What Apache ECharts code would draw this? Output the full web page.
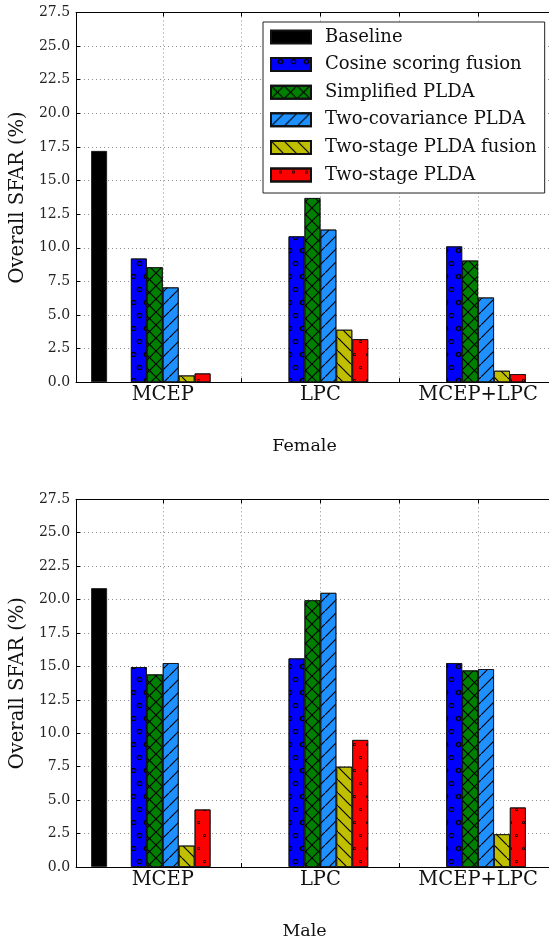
<!DOCTYPE html>
<html>
<head>
<meta charset="utf-8">
<script src="https://cdn.jsdelivr.net/npm/echarts@6/dist/echarts.min.js"></script>
<style>
  html, body { margin: 0; padding: 0; background: #fff; }
  #chart { width: 549px; height: 941px; }
</style>
</head>
<body>
<div id="chart"></div>
<script>
// groups on the x axis
const categories = ['MCEP', 'LPC', 'MCEP+LPC'];
const seriesNames = ['Baseline', 'Cosine scoring fusion', 'Simplified PLDA',
  'Two-covariance PLDA', 'Two-stage PLDA fusion', 'Two-stage PLDA'];

// Female
const baselineF = [17.2, null, null];
const cosineF = [9.2, 10.85, 10.1];
const simplifiedF = [8.55, 13.7, 9.05];
const twoCovF = [7.05, 11.35, 6.3];
const fusionF = [0.5, 3.9, 0.85];
const twoStageF = [0.65, 3.2, 0.6];

// Male
const baselineM = [20.85, null, null];
const cosineM = [14.95, 15.6, 15.25];
const simplifiedM = [14.4, 19.95, 14.7];
const twoCovM = [15.25, 20.5, 14.8];
const fusionM = [1.6, 7.5, 2.45];
const twoStageM = [4.3, 9.5, 4.45];

const FONT = 'DejaVu Serif';
const unit = 159.2; // px per group
const barW = unit * 0.1;

// hatch patterns (matplotlib style)
const ring = 'path://M6,0A6,6 0 1,1 6,12A6,6 0 1,1 6,0ZM6,2.6A3.4,3.4 0 1,0 6,9.4A3.4,3.4 0 1,0 6,2.6Z';
const ringSmall = 'path://M6,0A6,6 0 1,1 6,12A6,6 0 1,1 6,0ZM6,3.2A2.8,2.8 0 1,0 6,8.8A2.8,2.8 0 1,0 6,3.2Z';
const d = 0.8;
const cross = 'path://M0,0L' + d + ',0L6.5,' + (6.5 - d) + 'L' + (13 - d) + ',0L13,0L13,' + d +
  'L' + (6.5 + d) + ',6.5L13,' + (13 - d) + 'L13,13L' + (13 - d) + ',13L6.5,' + (6.5 + d) +
  'L' + d + ',13L0,13L0,' + (13 - d) + 'L' + (6.5 - d) + ',6.5L0,' + d + 'Z';
const slash = 'path://M0,' + (13 - d) + 'L' + (13 - d) + ',0L13,0L13,' + d + 'L' + d + ',13L0,13Z';
const backslash = 'path://M0,0L' + d + ',0L13,' + (13 - d) + 'L13,13L' + (13 - d) + ',13L0,' + d + 'Z';

const lineDecal = (sym) => ({
  symbol: sym, symbolSize: 1, color: '#000',
  dashArrayX: [13, 0], dashArrayY: [13, 0], rotation: 0
});
const dotDecal = (sym, size) => ({
  symbol: sym, symbolSize: size, color: '#000',
  dashArrayX: [[7, 6], [0, 6, 7, 0]], dashArrayY: [7, 6], rotation: 0
});

const styles = [
  { color: '#000000', decal: null },
  { color: '#0000ff', decal: dotDecal(ring, 0.8) },
  { color: '#008000', decal: lineDecal(cross) },
  { color: '#1e90ff', decal: lineDecal(slash) },
  { color: '#bfbf00', decal: lineDecal(backslash) },
  { color: '#ff0000', decal: dotDecal(ringSmall, 0.45) }
];

function pairs(arr) {
  return arr.map((v, i) => [i, v]);
}

function groupSeries(gi, lists) {
  const out = [];
  const add = (name, data, w, st) => {
    const s = {
      type: 'bar', name: name, xAxisIndex: gi * 2, yAxisIndex: gi,
      data: data, barWidth: w, barGap: 0, animation: false
    };
    if (st) {
      s.itemStyle = { color: st.color, borderColor: '#111', borderWidth: 0.8 };
      if (st.decal) s.itemStyle.decal = st.decal;
    } else {
      s.silent = true;
    }
    out.push(s);
  };
  add(seriesNames[0], pairs(lists[0]), barW, styles[0]);
  add('gapA' + gi, [], barW * 1.5, null);
  for (let k = 1; k < 6; k++) add(seriesNames[k], pairs(lists[k]), barW, styles[k]);
  add('gapB' + gi, [], barW * 1.5, null);
  return out;
}

const dotted = { show: true, lineStyle: { color: '#8a8a8a', width: 1, type: [1, 3] } };

function xAxes(gi, label) {
  const common = {
    type: 'value', gridIndex: gi, min: -0.55, max: 2.45,
    axisLine: { show: true, onZero: false, lineStyle: { color: '#000', width: 1 } },
    axisTick: { show: true, inside: true, length: 4, lineStyle: { color: '#000' },
      customValues: [0, 0.5, 1, 1.5, 2] }
  };
  return [
    Object.assign({}, common, {
      position: 'bottom',
      splitLine: dotted,
      axisLabel: { show: true, customValues: [0, 1, 2], margin: 3,
        formatter: (v) => categories[Math.round(v)],
        fontFamily: FONT, fontSize: 19.5, color: '#111' },
      name: label, nameLocation: 'middle', nameGap: 55,
      nameTextStyle: { fontFamily: FONT, fontSize: 17.5, color: '#111', padding: [0, 16, 0, 0] }
    }),
    Object.assign({}, common, {
      position: 'top',
      splitLine: { show: false },
      axisLabel: { show: false }
    })
  ];
}

function yAxis(gi) {
  return {
    type: 'value', gridIndex: gi, min: 0, max: 27.5, interval: 2.5, position: 'left',
    axisLine: { show: true, onZero: false, lineStyle: { color: '#000', width: 1 } },
    axisTick: { show: true, inside: true, length: 4, lineStyle: { color: '#000' } },
    splitLine: dotted,
    axisLabel: { formatter: (v) => v.toFixed(1), margin: 6,
      fontFamily: FONT, fontSize: 14, color: '#222' },
    name: 'Overall SFAR (%)', nameLocation: 'middle', nameGap: 38,
    nameTextStyle: { fontFamily: FONT, fontSize: 19.5, color: '#111' }
  };
}

const chart = echarts.init(document.getElementById('chart'), null, { renderer: 'canvas' });
chart.setOption({
  backgroundColor: '#fff',
  animation: false,
  grid: [
    { left: 74, top: 12.5, width: unit * 3, height: 369.7 },
    { left: 74, top: 499.3, width: unit * 3, height: 369.7 }
  ],
  xAxis: xAxes(0, 'Female').concat(xAxes(1, 'Male')),
  yAxis: [yAxis(0), yAxis(1)],
  legend: {
    data: seriesNames, orient: 'vertical', left: 263, top: 22,
    padding: [6, 8, 9, 7], itemGap: 9.6, itemWidth: 40, itemHeight: 13, icon: 'rect',
    backgroundColor: '#fff', borderColor: '#222', borderWidth: 1, borderRadius: 0,
    selectedMode: false,
    textStyle: { fontFamily: FONT, fontSize: 18, color: '#111', lineHeight: 18, padding: [0, 0, 0, 9] }
  },
  series: groupSeries(0, [baselineF, cosineF, simplifiedF, twoCovF, fusionF, twoStageF])
    .concat(groupSeries(1, [baselineM, cosineM, simplifiedM, twoCovM, fusionM, twoStageM]))
});
</script>
</body>
</html>
